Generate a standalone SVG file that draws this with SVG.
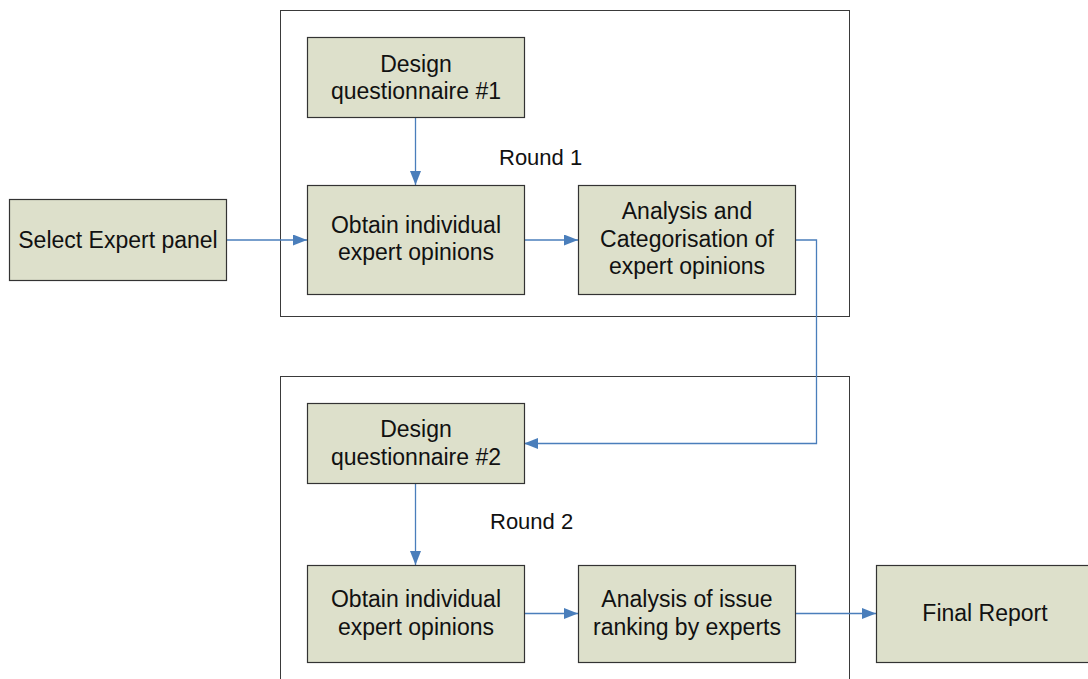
<svg xmlns="http://www.w3.org/2000/svg" width="1088" height="679" viewBox="0 0 1088 679">
<defs>
<style>
.frame{fill:none;stroke:#3a3a3a;stroke-width:1}
.box{fill:#dde0cb;stroke:#333333;stroke-width:1.2}
.t{font-family:"Liberation Sans",Arial,sans-serif;font-size:23px;fill:#111;text-anchor:middle}
.lbl{font-family:"Liberation Sans",Arial,sans-serif;font-size:22px;fill:#111}
.c{fill:none;stroke:#4a7ebb;stroke-width:1.3}
</style>
<marker id="ah" viewBox="0 0 14 11" refX="14" refY="5.5" markerWidth="14" markerHeight="11" markerUnits="userSpaceOnUse" orient="auto">
<path d="M0,0 L14,5.5 L0,11 Z" fill="#4a7ebb"/>
</marker>
</defs>
<rect width="1088" height="679" fill="#ffffff"/>
<g id="round1">
<rect class="frame" x="280.5" y="10.5" width="569" height="306"/>
<text class="lbl" x="499" y="165">Round 1</text>
</g>
<g id="round2">
<rect class="frame" x="280.5" y="376.5" width="569" height="320"/>
<text class="lbl" x="490" y="529">Round 2</text>
</g>
<g id="connectors">
<path class="c" d="M226,240 L307,240" marker-end="url(#ah)"/>
<path class="c" d="M415.5,117 L415.5,185" marker-end="url(#ah)"/>
<path class="c" d="M524,240 L578,240" marker-end="url(#ah)"/>
<path class="c" d="M795,240 L816.5,240 L816.5,443.5 L524,443.5" marker-end="url(#ah)"/>
<path class="c" d="M415.5,483 L415.5,565" marker-end="url(#ah)"/>
<path class="c" d="M524,613.5 L578,613.5" marker-end="url(#ah)"/>
<path class="c" d="M795,613.5 L876,613.5" marker-end="url(#ah)"/>
</g>
<g id="select">
<rect class="box" x="9.5" y="199.5" width="217" height="81"/>
<text class="t" x="118" y="247.5">Select Expert panel</text>
</g>
<g id="design1">
<rect class="box" x="307.5" y="37.5" width="217" height="80"/>
<text class="t" x="416" y="72">Design</text>
<text class="t" x="416" y="99">questionnaire #1</text>
</g>
<g id="obtain1">
<rect class="box" x="307.5" y="185.5" width="217" height="109"/>
<text class="t" x="416" y="233">Obtain individual</text>
<text class="t" x="416" y="260">expert opinions</text>
</g>
<g id="analysis1">
<rect class="box" x="578.5" y="185.5" width="217" height="109"/>
<text class="t" x="687" y="219">Analysis and</text>
<text class="t" x="687" y="246.5">Categorisation of</text>
<text class="t" x="687" y="273.5">expert opinions</text>
</g>
<g id="design2">
<rect class="box" x="307.5" y="403.5" width="217" height="80"/>
<text class="t" x="416" y="437">Design</text>
<text class="t" x="416" y="464.5">questionnaire #2</text>
</g>
<g id="obtain2">
<rect class="box" x="307.5" y="565.5" width="217" height="97"/>
<text class="t" x="416" y="607">Obtain individual</text>
<text class="t" x="416" y="634.5">expert opinions</text>
</g>
<g id="analysis2">
<rect class="box" x="578.5" y="565.5" width="217" height="97"/>
<text class="t" x="687" y="607">Analysis of issue</text>
<text class="t" x="687" y="634.5">ranking by experts</text>
</g>
<g id="final">
<rect class="box" x="876.5" y="565.5" width="217" height="97"/>
<text class="t" x="985" y="621">Final Report</text>
</g>
</svg>
